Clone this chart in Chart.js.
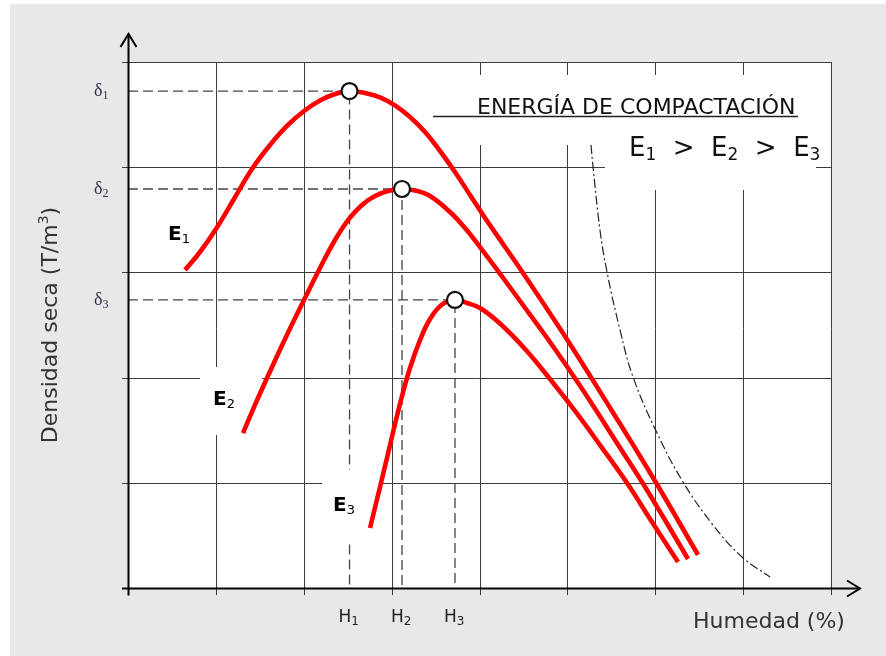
<!DOCTYPE html>
<html><head><meta charset="utf-8">
<script src="https://cdn.jsdelivr.net/npm/chart.js@4.4.0/dist/chart.umd.min.js"></script>
<style>html,body{margin:0;padding:0;background:#fff;}canvas{display:block}</style>
</head><body>
<canvas id="c" width="886" height="656"></canvas>
<script>
// ---- data (grid units: x 0..8, y 0..5) ----
const gridX = [0,1,2,3,4,5,6,7,8];
const gridY = [0,1,2,3,4,5];
const optHumidity = [2.521, 3.118, 3.721];   // H1, H2, H3
const maxDensity  = [4.724, 3.793, 2.738];   // δ1, δ2, δ3
const densityLabels = ['1','2','3'];
const humidityLabels = ['1','2','3'];

const e1X = [0.649,0.819,1.001,1.206,1.411,1.616,1.809,2.003,2.185,2.356,2.521,2.697,2.868,3.038,3.209,3.380,3.551,3.721,3.892,4.063,4.279,4.495,5.007,5.508,5.997,6.487];
const e1Y = [3.023,3.194,3.413,3.698,3.983,4.211,4.392,4.534,4.634,4.696,4.724,4.705,4.663,4.587,4.477,4.335,4.154,3.954,3.736,3.517,3.256,2.994,2.348,1.683,1.017,0.314];

const e2X = [1.309,1.445,1.582,1.787,2.003,2.185,2.356,2.515,2.663,2.811,2.959,3.118,3.266,3.437,3.664,3.835,4.006,4.211,4.461,4.745,5.007,5.258,5.542,5.849,6.111,6.373];
const e2Y = [1.473,1.740,1.996,2.367,2.738,3.042,3.308,3.508,3.641,3.726,3.774,3.793,3.779,3.726,3.574,3.422,3.241,3.013,2.728,2.405,2.091,1.778,1.407,1.008,0.646,0.276];

const e3X = [2.754,2.868,2.982,3.095,3.209,3.323,3.437,3.573,3.721,3.858,4.006,4.233,4.518,4.802,5.087,5.371,5.679,5.963,6.259];
const e3Y = [0.570,0.960,1.359,1.749,2.091,2.357,2.557,2.695,2.738,2.709,2.662,2.514,2.272,1.987,1.683,1.359,0.998,0.627,0.247];

const satX = [5.269,5.292,5.371,5.451,5.599,5.747,6.020,6.316,6.657,6.987,7.306];
const satY = [4.211,4.002,3.403,3.004,2.453,2.006,1.473,1.008,0.599,0.295,0.105];

const titleText = 'ENERGÍA DE COMPACTACIÓN';
const xTitle = 'Humedad (%)';
const yTitle = 'Densidad seca (T/m';

const pts = (xs, ys) => xs.map((x,i)=>({x, y: ys[i]}));
const guide = i => [{x:0,y:maxDensity[i]},{x:optHumidity[i],y:maxDensity[i]},{x:optHumidity[i],y:0}];

const RED = '#ff0000';
const curveBase = {borderColor: RED, borderWidth: 4.6, pointRadius: 0, fill:false, tension:0.4, borderCapStyle:'butt', borderJoinStyle:'round', order:1};
const guideBase = {borderColor:'#444', borderWidth:1.3, borderDash:[10,5], pointRadius:0, tension:0, fill:false, order:3};

function drawParts(ctx, x, y, parts) {
  ctx.textAlign = 'left'; ctx.textBaseline = 'alphabetic';
  for (const p of parts) {
    ctx.font = p.f; ctx.fillStyle = p.c;
    ctx.fillText(p.t, x, y + (p.dy||0));
    x += ctx.measureText(p.t).width + (p.gap||0);
  }
  return x;
}

const deco = {
  id: 'deco',
  beforeDraw(chart) {
    const ctx = chart.ctx, a = chart.chartArea;
    const xs = chart.scales.x, ys = chart.scales.y;
    ctx.save();
    ctx.fillStyle = '#fff'; ctx.fillRect(0,0,chart.width,chart.height);
    ctx.fillStyle = '#e8e8e8'; ctx.fillRect(10,4,chart.width-10,chart.height-4);
    ctx.fillStyle = '#fff'; ctx.fillRect(a.left,a.top,a.right-a.left,a.bottom-a.top);
    ctx.strokeStyle = '#3c3c3c'; ctx.lineWidth = 1;
    ctx.beginPath();
    for (const g of gridX) {
      const px = Math.round(xs.getPixelForValue(g)) + 0.5;
      ctx.moveTo(px, a.top); ctx.lineTo(px, a.bottom + 7);
    }
    for (const g of gridY) {
      const py = Math.round(ys.getPixelForValue(g)) + 0.5;
      ctx.moveTo(a.left - 6, py); ctx.lineTo(a.right, py);
    }
    ctx.stroke();
    ctx.restore();
  },
  beforeDatasetDraw(chart, args) {
    if (args.index !== 3) return;
    const ctx = chart.ctx;
    ctx.save();
    ctx.fillStyle = '#fff';
    ctx.fillRect(200,367,62,68);   // E2 label box
    ctx.fillRect(322,470,61,70);   // E3 label box
    ctx.fillRect(433,75,387,70);   // title box
    ctx.fillRect(605,80,211,110);  // E1>E2>E3 box
    ctx.restore();
  },
  afterDatasetsDraw(chart) {
    const ctx = chart.ctx, a = chart.chartArea;
    const xs = chart.scales.x, ys = chart.scales.y;
    ctx.save();
    ctx.strokeStyle = '#000'; ctx.lineWidth = 2; ctx.lineCap='butt';
    const x0 = Math.round(a.left)+0.5, y0 = Math.round(a.bottom)+0.5;
    ctx.beginPath();
    ctx.moveTo(x0, y0 + 7); ctx.lineTo(x0, 34);
    ctx.moveTo(a.left - 6, y0); ctx.lineTo(860, y0);
    ctx.stroke();
    ctx.beginPath();
    ctx.moveTo(x0-8, 47); ctx.lineTo(x0, 34); ctx.lineTo(x0+8, 47);
    ctx.moveTo(847, y0-8); ctx.lineTo(860, y0); ctx.lineTo(847, y0+8);
    ctx.stroke();

    for (let i=0;i<maxDensity.length;i++) {
      const py = ys.getPixelForValue(maxDensity[i]);
      drawParts(ctx, 94, py+5, [
        {t:'δ', f:'18px "Liberation Serif", serif', c:'#2b3448'},
        {t:densityLabels[i], f:'12px "Liberation Serif", serif', c:'#2b3448', dy:3}
      ]);
    }
    for (let i=0;i<optHumidity.length;i++) {
      const px = xs.getPixelForValue(optHumidity[i]);
      drawParts(ctx, px-11, 622, [
        {t:'H', f:'17px "DejaVu Sans", sans-serif', c:'#222'},
        {t:humidityLabels[i], f:'12px "DejaVu Sans", sans-serif', c:'#222', dy:3}
      ]);
    }
    const bold = 'bold 20px "DejaVu Sans", sans-serif', sub = '13px "DejaVu Sans", sans-serif';
    drawParts(ctx, 168, 240, [{t:'E',f:bold,c:'#000'},{t:'1',f:sub,c:'#000',dy:3}]);
    drawParts(ctx, 213, 405, [{t:'E',f:bold,c:'#000'},{t:'2',f:sub,c:'#000',dy:3}]);
    drawParts(ctx, 333, 511, [{t:'E',f:bold,c:'#000'},{t:'3',f:sub,c:'#000',dy:3}]);

    ctx.font = '22px "DejaVu Sans", sans-serif'; ctx.fillStyle = '#111';
    ctx.textAlign = 'left'; ctx.textBaseline = 'alphabetic';
    ctx.fillText(titleText, 477, 114);
    ctx.strokeStyle = '#222'; ctx.lineWidth = 1.5;
    ctx.beginPath(); ctx.moveTo(433, 116.5); ctx.lineTo(798, 116.5); ctx.stroke();

    const big = '26px "DejaVu Sans", sans-serif', bsub = '17px "DejaVu Sans", sans-serif';
    drawParts(ctx, 629, 156, [
      {t:'E',f:big,c:'#111'},{t:'1',f:bsub,c:'#111',dy:4},{t:'  >  ',f:big,c:'#111'},
      {t:'E',f:big,c:'#111'},{t:'2',f:bsub,c:'#111',dy:4},{t:'  >  ',f:big,c:'#111'},
      {t:'E',f:big,c:'#111'},{t:'3',f:bsub,c:'#111',dy:4}
    ]);

    ctx.font = '22px "DejaVu Sans", sans-serif'; ctx.fillStyle = '#333';
    ctx.fillText(xTitle, 693, 628);
    ctx.save();
    ctx.translate(57, 325); ctx.rotate(-Math.PI/2);
    ctx.font = '22px "DejaVu Sans", sans-serif';
    const w1 = ctx.measureText(yTitle).width;
    ctx.font = '14px "DejaVu Sans", sans-serif';
    const w2 = ctx.measureText('3').width;
    ctx.font = '22px "DejaVu Sans", sans-serif';
    const w3 = ctx.measureText(')').width;
    let sx = -(w1+w2+w3)/2;
    ctx.fillStyle = '#333';
    ctx.fillText(yTitle, sx, 0); sx += w1;
    ctx.font = '14px "DejaVu Sans", sans-serif'; ctx.fillText('3', sx, -9); sx += w2;
    ctx.font = '22px "DejaVu Sans", sans-serif'; ctx.fillText(')', sx, 0);
    ctx.restore();
    ctx.restore();
  }
};

new Chart(document.getElementById('c'), {
  type: 'line',
  data: {
    datasets: [
      Object.assign({label:'g1', data: guide(0)}, guideBase),
      Object.assign({label:'g2', data: guide(1)}, guideBase),
      Object.assign({label:'g3', data: guide(2)}, guideBase),
      {label:'sat', data: pts(satX,satY), borderColor:'#222', borderWidth:1.2, borderDash:[9,3,2,3], pointRadius:0, tension:0.4, fill:false, order:2},
      Object.assign({label:'E1', data: pts(e1X,e1Y)}, curveBase),
      Object.assign({label:'E2', data: pts(e2X,e2Y)}, curveBase),
      Object.assign({label:'E3', data: pts(e3X,e3Y)}, curveBase),
      {label:'peaks', type:'scatter', data: pts(optHumidity, maxDensity), pointRadius:8, pointBorderWidth:2.2,
       pointBackgroundColor:'#fff', pointBorderColor:'#111', showLine:false, order:0}
    ]
  },
  options: {
    responsive:false, animation:false, devicePixelRatio:1,
    layout:{padding:{left:128, top:62, right:55, bottom:68}},
    plugins:{legend:{display:false}, tooltip:{enabled:false}},
    scales:{
      x:{type:'linear', min:0, max:8, display:false},
      y:{type:'linear', min:0, max:5, display:false}
    },
    clip:false
  },
  plugins:[deco]
});
</script>
</body></html>
